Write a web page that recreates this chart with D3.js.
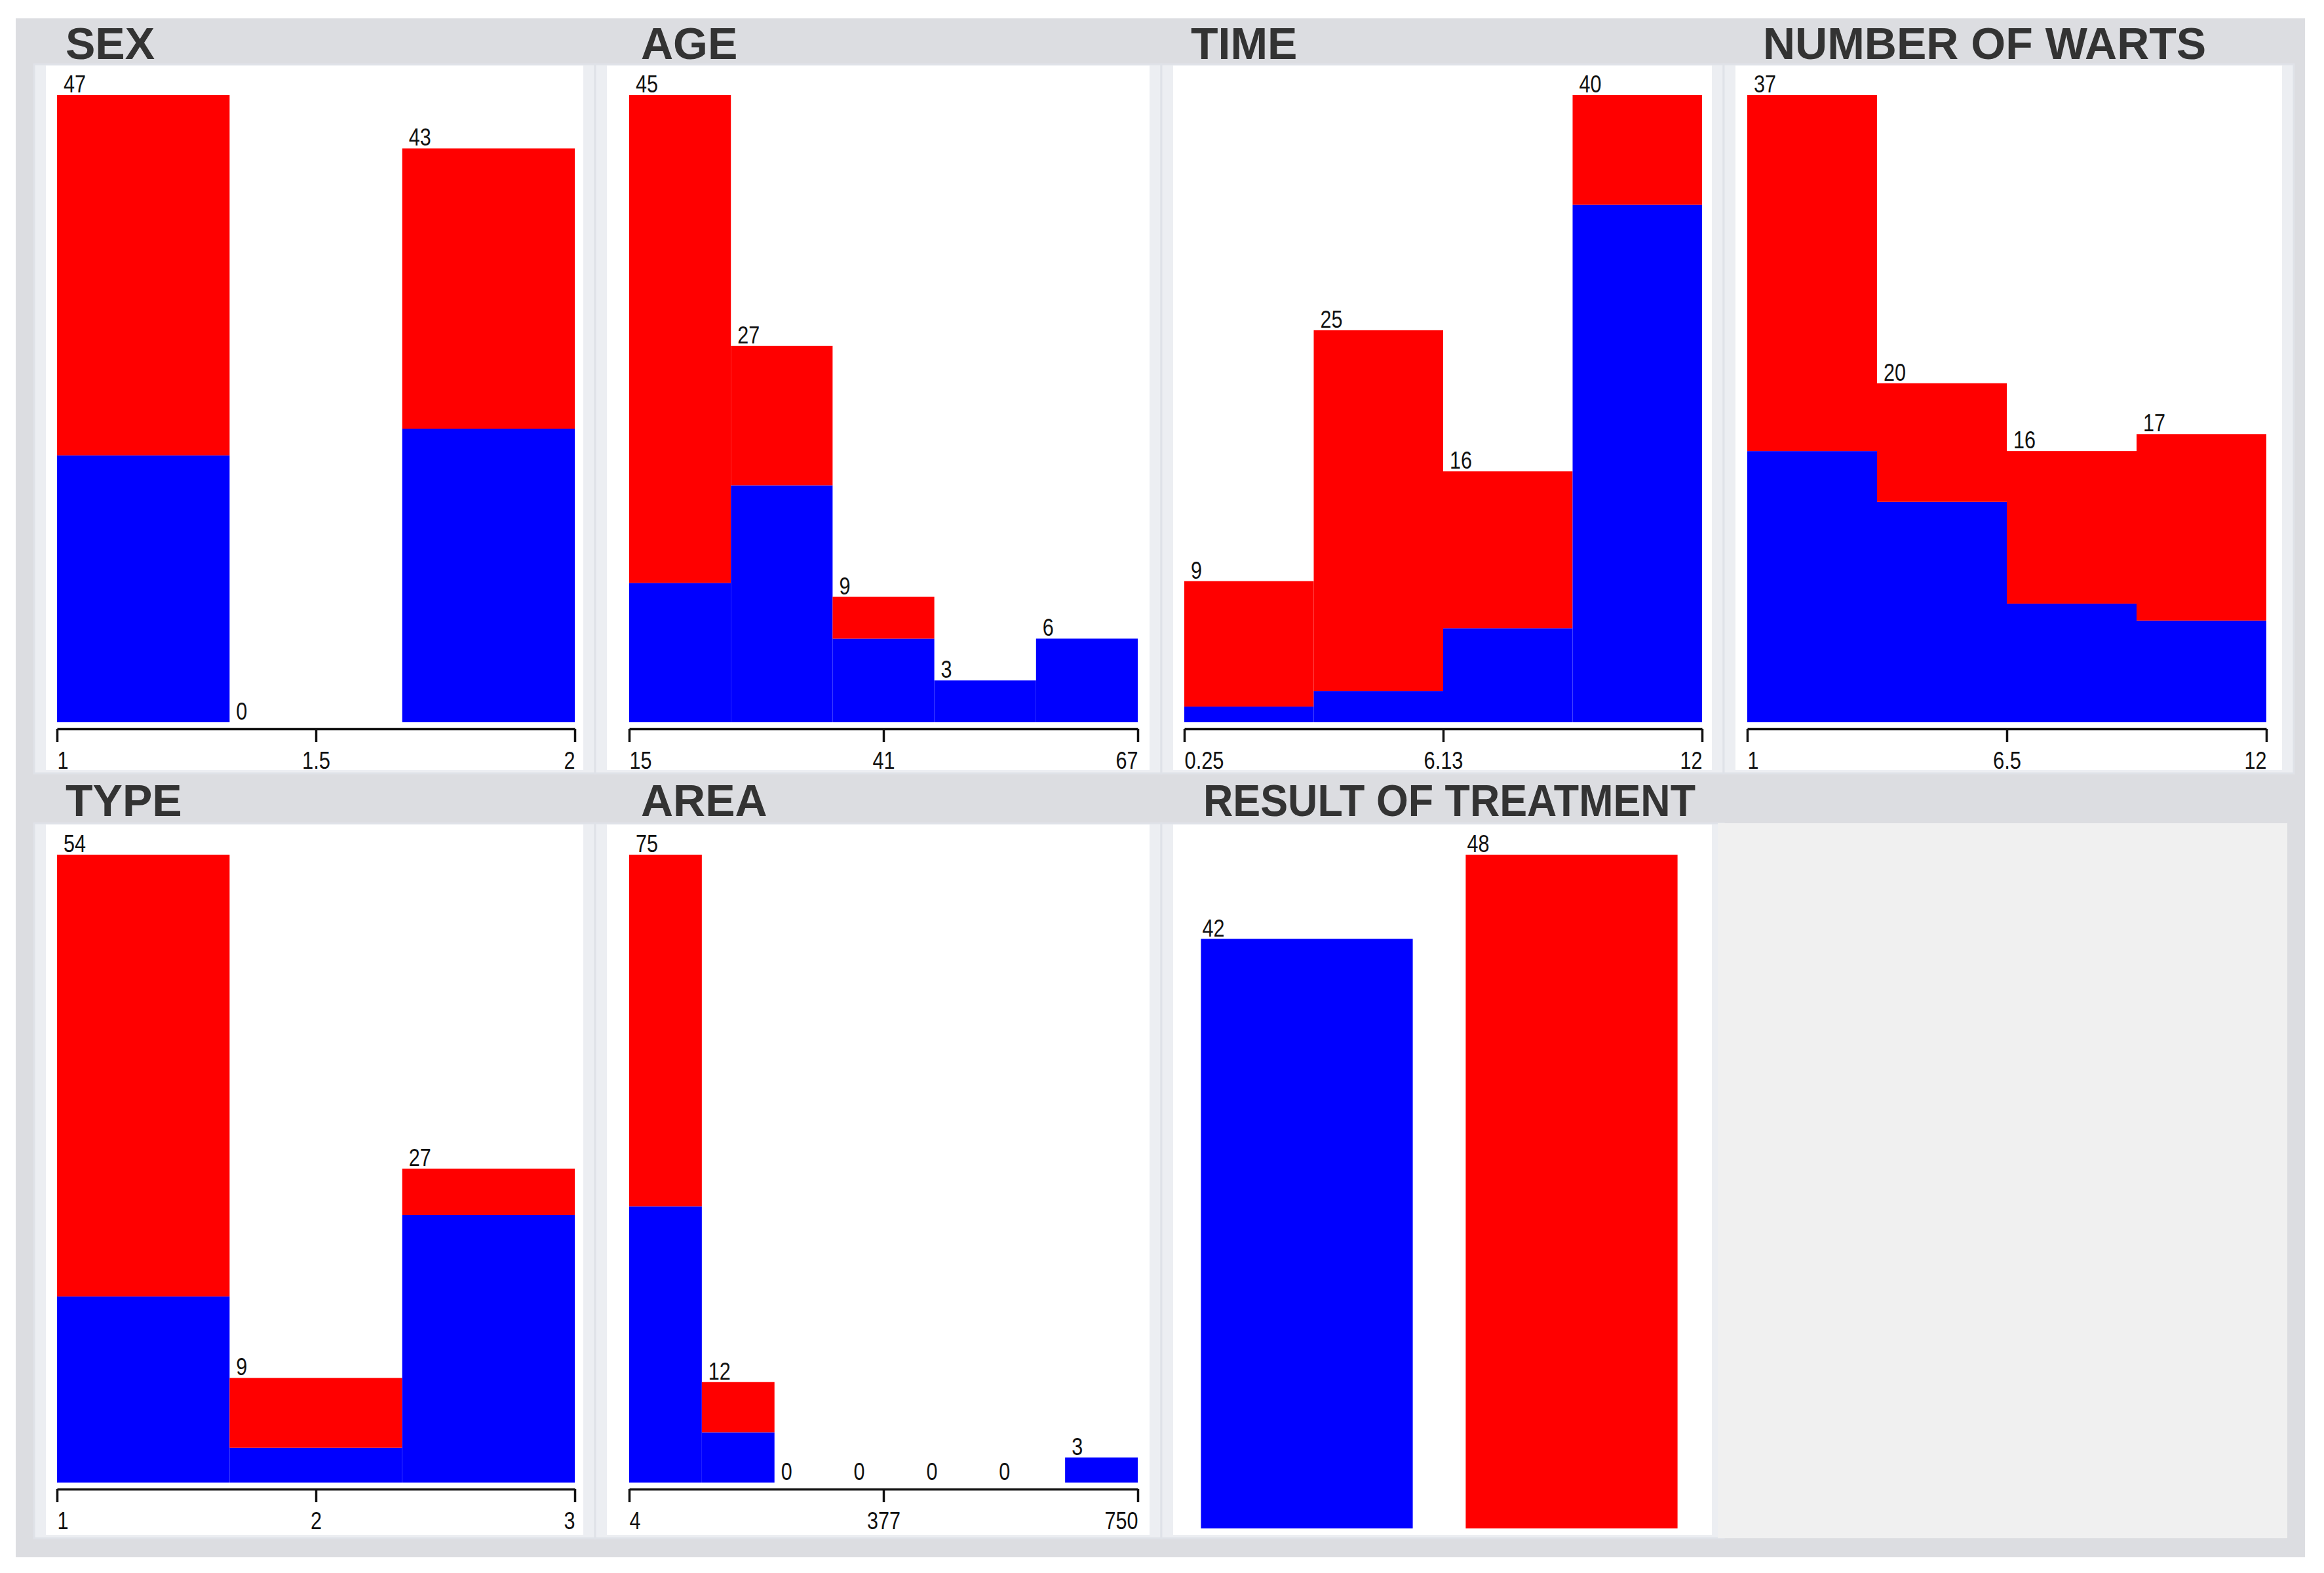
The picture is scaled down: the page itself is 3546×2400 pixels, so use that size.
<!DOCTYPE html>
<html>
<head>
<meta charset="utf-8">
<script src="https://cdn.jsdelivr.net/npm/d3@7/dist/d3.min.js"></script>
<style>
  body { margin: 0; background: #fff; }
  text { font-family: "Liberation Sans Narrow", "Liberation Sans", Arial, sans-serif; }
  .title { font-family: "Liberation Sans", Arial, sans-serif; font-weight: bold; fill: #333; }
</style>
</head>
<body>
<svg id="chart"></svg>
<script>
// counts per bin: blue = result 0, red = result 1 (stacked on top)
var sexBlue = [20, 0, 22]
var sexRed = [27, 0, 21]
var sexTicks = ["1", "1.5", "2"]

var ageBlue = [10, 17, 6, 3, 6]
var ageRed = [35, 10, 3, 0, 0]
var ageTicks = ["15", "41", "67"]

var timeBlue = [1, 2, 6, 33]
var timeRed = [8, 23, 10, 7]
var timeTicks = ["0.25", "6.13", "12"]

var wartsBlue = [16, 13, 7, 6]
var wartsRed = [21, 7, 9, 11]
var wartsTicks = ["1", "6.5", "12"]

var typeBlue = [16, 3, 23]
var typeRed = [38, 6, 4]
var typeTicks = ["1", "2", "3"]

var areaBlue = [33, 6, 0, 0, 0, 0, 3]
var areaRed = [42, 6, 0, 0, 0, 0, 0]
var areaTicks = ["4", "377", "750"]

var resultNames = ["0", "1"]
var resultCounts = [42, 48]

var BLUE = "#0000ff", RED = "#ff0000"

var W = 3546, H = 2400
var svg = d3.select("#chart").attr("width", W).attr("height", H)

// outer grey board
svg.append("rect").attr("x", 24).attr("y", 28).attr("width", 3493).attr("height", 2348).attr("fill", "#dcdde1")

var cols = [[52, 908], [908, 1772], [1772, 2630], [2630, 3500]]
var rows = [[98, 1180], [1256, 2347]]
var plotX = [[87, 877], [960, 1736], [1807, 2597], [2666, 3458]]
var plotY = [[1102, 145], [2262, 1304]]
var titleX = [100, 978, 1817, 2690]
var titleY = [90, 1245]

// narrow look for the small numbers
function narrow(s){
  var w = 0
  String(s).split("").forEach(function(ch){ w += (ch == ".") ? 9 : 17 })
  return w
}

function frame(c, r){
  var g = svg.append("g")
  g.append("rect")
    .attr("x", cols[c][0]).attr("y", rows[r][0])
    .attr("width", cols[c][1] - cols[c][0]).attr("height", rows[r][1] - rows[r][0])
    .attr("fill", "#eceef2").attr("stroke", "#dfe2e8").attr("stroke-width", 3)
  g.append("rect")
    .attr("x", cols[c][0] + 18).attr("y", rows[r][0] + 2)
    .attr("width", cols[c][1] - cols[c][0] - 36).attr("height", rows[r][1] - rows[r][0] - 7)
    .attr("fill", "#fff")
  return g
}

function title(x, y, txt, len){
  var t = svg.append("text").attr("class", "title")
    .attr("x", x).attr("y", y)
    .attr("font-size", 68)
    .text(txt)
  if (len) t.attr("textLength", len).attr("lengthAdjust", "spacingAndGlyphs")
}

function histPanel(c, r, name, blue, red, ticks){
  var g = frame(c, r)
  title(titleX[c], titleY[r], name)
  var n = blue.length
  var totals = blue.map(function(d, i){ return d + red[i] })
  var x = d3.scaleLinear().domain([0, n]).range(plotX[c])
  var y = d3.scaleLinear().domain([0, d3.max(totals)]).range(plotY[r])

  var bins = g.selectAll(".bin").data(totals).enter().append("g")
  bins.append("rect")
    .attr("x", function(d, i){ return x(i) })
    .attr("width", function(d, i){ return x(i + 1) - x(i) })
    .attr("y", function(d, i){ return y(blue[i]) })
    .attr("height", function(d, i){ return y(0) - y(blue[i]) })
    .attr("fill", BLUE)
  bins.append("rect")
    .attr("x", function(d, i){ return x(i) })
    .attr("width", function(d, i){ return x(i + 1) - x(i) })
    .attr("y", function(d){ return y(d) })
    .attr("height", function(d, i){ return y(blue[i]) - y(d) })
    .attr("fill", RED)
  bins.append("text")
    .attr("x", function(d, i){ return x(i) + 10 })
    .attr("y", function(d){ return y(d) - 4 })
    .attr("font-size", 36)
    .attr("fill", "#111")
    .attr("textLength", function(d){ return narrow(d) })
    .attr("lengthAdjust", "spacingAndGlyphs")
    .text(function(d){ return d })

  // axis: three ticks min / mid / max
  var ax = d3.scaleLinear().domain([0, ticks.length - 1]).range(plotX[c])
  var axis = g.append("g")
    .attr("transform", "translate(0," + (plotY[r][0] + 10) + ")")
    .call(d3.axisBottom(ax).tickValues(d3.range(ticks.length)).tickSize(20).tickSizeOuter(0)
      .tickPadding(15).tickFormat(function(d, i){ return ticks[i] }))
  axis.select(".domain").attr("stroke", "#111").attr("stroke-width", 3.5)
  axis.selectAll(".tick line").attr("stroke", "#111").attr("stroke-width", 3.5)
  axis.selectAll(".tick text")
    .attr("font-size", 36).attr("fill", "#111")
    .attr("font-family", null)
    .attr("textLength", function(d, i){ return narrow(ticks[i]) })
    .attr("lengthAdjust", "spacingAndGlyphs")
    .attr("text-anchor", function(d, i){ return i == 0 ? "start" : (i == ticks.length - 1 ? "end" : "middle") })
}

histPanel(0, 0, "SEX", sexBlue, sexRed, sexTicks)
histPanel(1, 0, "AGE", ageBlue, ageRed, ageTicks)
histPanel(2, 0, "TIME", timeBlue, timeRed, timeTicks)
histPanel(3, 0, "NUMBER OF WARTS", wartsBlue, wartsRed, wartsTicks)
histPanel(0, 1, "TYPE", typeBlue, typeRed, typeTicks)
histPanel(1, 1, "AREA", areaBlue, areaRed, areaTicks)

// result of treatment: plain bar chart, no axis
var rg = frame(2, 1)
title(1836, titleY[1], "RESULT OF TREATMENT", 751)
var bx = d3.scaleBand().domain(resultNames).range([1792, 2600]).paddingInner(0.2).paddingOuter(0.1)
var by = d3.scaleLinear().domain([0, d3.max(resultCounts)]).range([2332, 1304])
rg.selectAll(".res").data(resultCounts).enter().append("rect")
  .attr("x", function(d, i){ return bx(resultNames[i]) })
  .attr("width", bx.bandwidth())
  .attr("y", function(d){ return by(d) })
  .attr("height", function(d){ return by(0) - by(d) })
  .attr("fill", function(d, i){ return i == 0 ? BLUE : RED })
rg.selectAll(".reslab").data(resultCounts).enter().append("text")
  .attr("x", function(d, i){ return bx(resultNames[i]) + 2 })
  .attr("y", function(d){ return by(d) - 4 })
  .attr("font-size", 36).attr("fill", "#111")
  .attr("textLength", function(d){ return narrow(d) })
  .attr("lengthAdjust", "spacingAndGlyphs")
  .text(function(d){ return d })

// empty fourth slot of the second row
svg.append("rect").attr("x", 2621).attr("y", 1256).attr("width", 869).attr("height", 1091).attr("fill", "#f0f0f0")
</script>
</body>
</html>
